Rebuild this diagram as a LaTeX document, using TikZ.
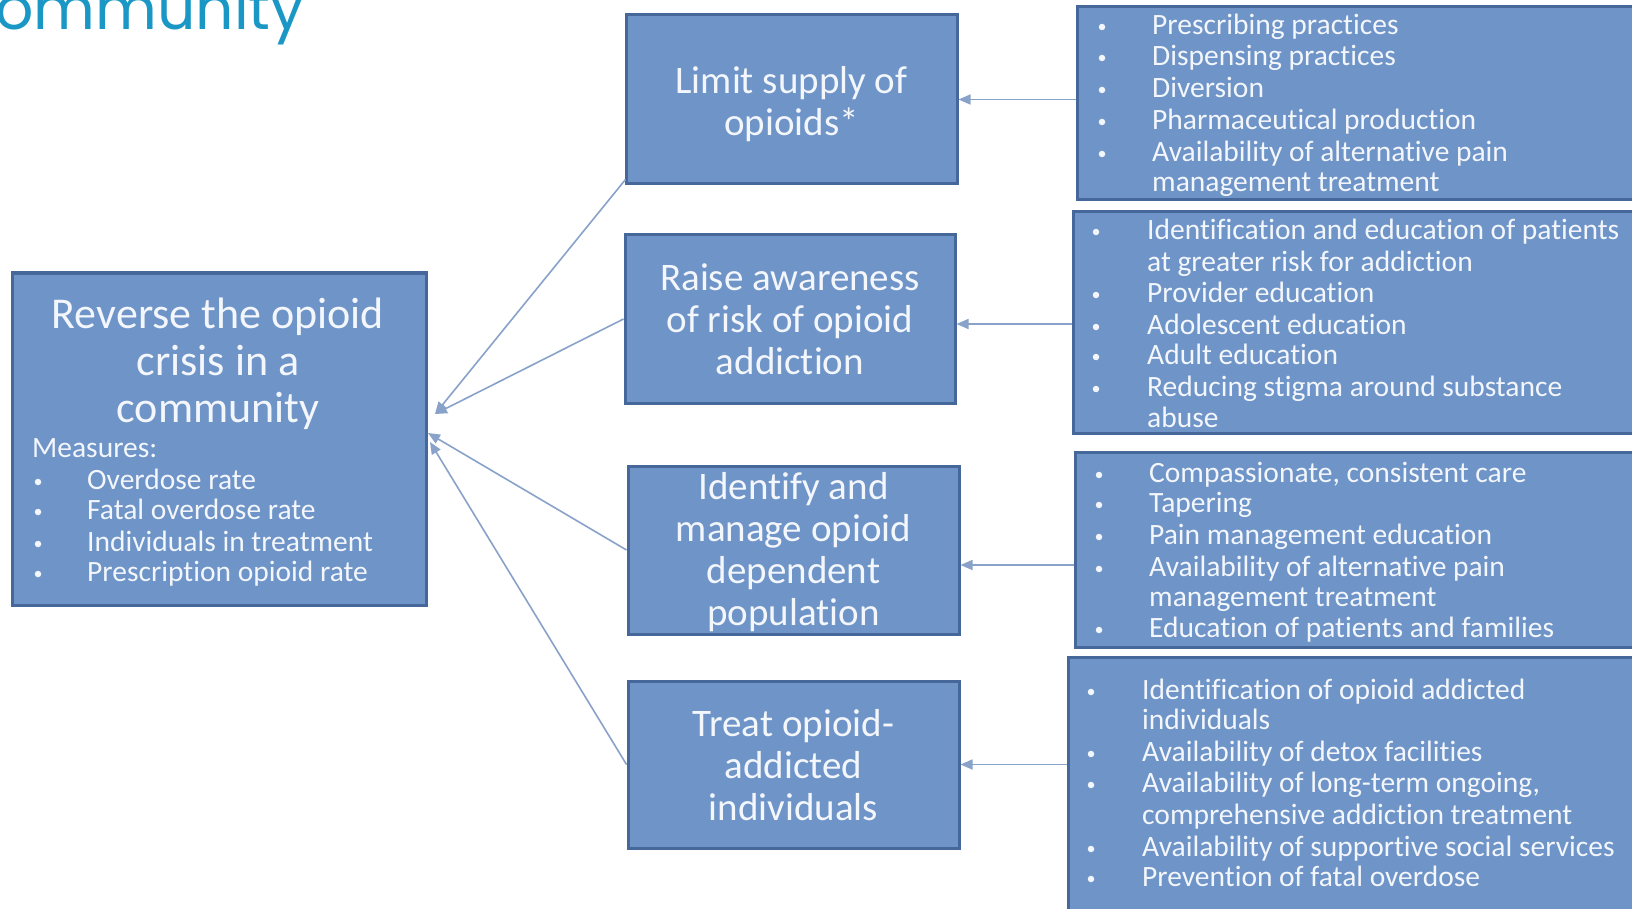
\documentclass[tikz,border=0pt]{standalone}
\usepackage{fontspec}
\setmainfont{Carlito}[Ligatures=NoCommon]
\newfontfamily\titlefont{Poppins}
\usetikzlibrary{arrows.meta,calc}
\definecolor{boxfill}{HTML}{6E94C8}
\definecolor{boxline}{HTML}{46679A}
\definecolor{arrcol}{HTML}{88A2C9}
\definecolor{txtcol}{HTML}{F3F6FB}
\definecolor{ttlcol}{HTML}{1A97C4}
\newcommand\blist[4]{%
  \foreach \yv/\bv/\tv [count=\i] in {#4} {
    \node[ltxt] (#1t\i) at (#3,\yv) {\tv};
    \ifnum\bv=1\relax \node[bul] (#1b\i) at (#2,\yv) {}; \fi
  }}
\begin{document}
\begin{tikzpicture}[x=1pt,y=-1pt,
  box/.style={draw=boxline, line width=3pt, fill=boxfill, rectangle, inner sep=0pt},
  midtxt/.style={text=txtcol, inner sep=0pt, align=center, font=\fontsize{39}{42}\selectfont},
  arr/.style={draw=arrcol, line width=1.6pt, -{Triangle[length=12pt,width=10pt]}},
  ltxt/.style={text=txtcol, inner sep=0pt, anchor=mid west, yshift=-7pt, font=\fontsize{29.5}{31}\selectfont},
  bul/.style={circle, fill=txtcol, inner sep=0pt, minimum size=6.5pt, yshift=-2pt},
]
\useasboundingbox (0,0) rectangle (1632,909);
\begin{scope}
\clip (0,0) rectangle (1632,909);
\fill[white] (0,0) rectangle (1632,909);

% title fragment
\node[anchor=base west, text=ttlcol, inner sep=0pt, font=\titlefont\fontsize{60}{60}\selectfont] (ttl) at (-5,30) {ommunity};

% goal box
\node[box, minimum width=414, minimum height=332] (goal) at (219,439) {};
\node[text=txtcol, align=center, inner sep=0pt, font=\fontsize{44}{47}\selectfont] (gtitle) at (218,364) {Reverse the opioid\\crisis in a\\community};
\node[ltxt] (meas) at (32,448) {Measures:};
\blist{m}{38}{87}{480/1/Overdose rate, 510/1/Fatal overdose rate, 542/1/Individuals in treatment, 572/1/Prescription opioid rate}

% middle boxes
\node[box, minimum width=331, minimum height=169] (limit) at (791.5,99.5) {};
\node[box, minimum width=330, minimum height=168] (raise) at (790,319) {};
\node[box, minimum width=331, minimum height=168] (ident) at (793.5,550) {};
\node[box, minimum width=331, minimum height=167] (treat) at (793.5,764.5) {};
\node[midtxt] (limitt) at ($(limit)+(0,5)$) {Limit supply of\\opioids*};
\node[midtxt] (raiset) at (raise) {Raise awareness\\of risk of opioid\\addiction};
\node[midtxt] (identt) at ($(ident)+(0,2)$) {Identify and\\manage opioid\\dependent\\population};
\node[midtxt] (treatt) at ($(treat)+(0,1)$) {Treat opioid-\\addicted\\individuals};

% right boxes
\node[box, minimum width=583, minimum height=193] (rb1) at (1368.5,103.5) {};
\node[box, minimum width=587, minimum height=221] (rb2) at (1366.5,322.5) {};
\node[box, minimum width=585, minimum height=195] (rb3) at (1367.5,549.5) {};
\node[box, minimum width=592, minimum height=263] (rb4) at (1364,788.5) {};

\blist{a}{1102}{1152}{25/1/Prescribing practices, 56/1/Dispensing practices, 88/1/Diversion, 120/1/Pharmaceutical production, 152/1/Availability of alternative pain, 182/0/management treatment}
\blist{b}{1096}{1147}{230/1/Identification and education of patients, 262/0/at greater risk for addiction, 293/1/Provider education, 325/1/Adolescent education, 355/1/Adult education, 387/1/Reducing stigma around substance, 418/0/abuse}
\blist{c}{1099}{1149}{473/1/{Compassionate, consistent care}, 503/1/Tapering, 535/1/Pain management education, 567/1/Availability of alternative pain, 597/0/management treatment, 628/1/Education of patients and families}
\blist{d}{1091}{1142}{690/1/Identification of opioid addicted, 720/0/individuals, 752/1/Availability of detox facilities, 783/1/{Availability of long-term ongoing,}, 815/0/comprehensive addiction treatment, 847/1/Availability of supportive social services, 877/1/Prevention of fatal overdose}

% horizontal connectors
\coordinate (a2) at ($(raise.east)+(0,5)$);
\coordinate (a3) at ($(ident.east)+(0,15)$);
\draw[arr] (rb1.west |- limit.east) -- (limit.east);
\draw[arr] (rb2.west |- a2) -- (a2);
\draw[arr] (rb3.west |- a3) -- (a3);
\draw[arr] (rb4.west |- treat.east) -- (treat.east);

% converging connectors
\coordinate (tA) at (435,414);
\coordinate (tB) at (428,433);
\coordinate (tC) at (430,442);
\draw[arr] ($(limit.south west)+(1,-6)$) -- (tA);
\draw[arr] (raise.west) -- (tA);
\draw[arr] (ident.west) -- (tB);
\draw[arr] (treat.west) -- (tC);
\end{scope}
\end{tikzpicture}
\end{document}
